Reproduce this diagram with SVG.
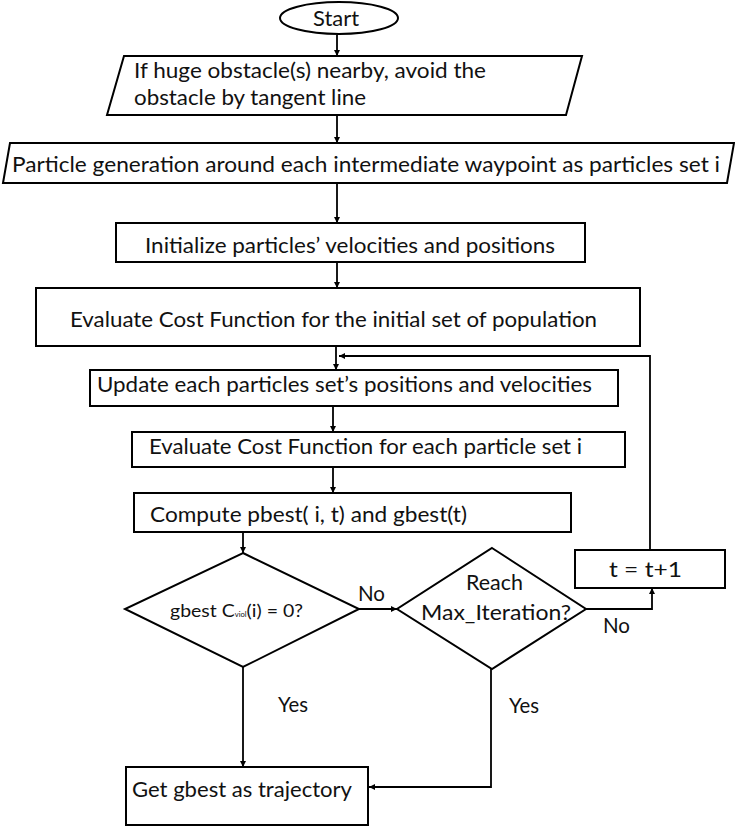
<svg xmlns="http://www.w3.org/2000/svg" width="735" height="830" viewBox="0 0 735 830">
<defs>
<marker id="ah" viewBox="0 0 10 10" refX="10" refY="5" markerWidth="6" markerHeight="6" markerUnits="userSpaceOnUse" orient="auto">
<path d="M0,0 L10,5 L0,10 z" fill="#000"/>
</marker>
<style>
.shape{fill:#fff;stroke:#000;stroke-width:2}
.t{font-family:Lato,"Open Sans",sans-serif;font-size:21px;fill:#111}
.c{fill:none;stroke:#000;stroke-width:1.8;marker-end:url(#ah)}
</style>
</defs>
<rect width="735" height="830" fill="#fff"/>
<g id="connectors">
<line class="c" x1="337" y1="35" x2="337" y2="56"/>
<line class="c" x1="337" y1="115" x2="337" y2="143"/>
<line class="c" x1="337" y1="183" x2="337" y2="223"/>
<line class="c" x1="337" y1="262" x2="337" y2="288"/>
<line class="c" x1="336" y1="346" x2="336" y2="370"/>
<polyline class="c" points="650,550 650,356 339,356"/>
<line class="c" x1="333" y1="406" x2="333" y2="432"/>
<line class="c" x1="333" y1="467" x2="333" y2="493"/>
<line class="c" x1="243" y1="532" x2="243" y2="553"/>
<line class="c" x1="359" y1="609" x2="397" y2="609"/>
<polyline class="c" points="586,609 652,609 652,588"/>
<line class="c" x1="243" y1="667" x2="243" y2="767"/>
<polyline class="c" points="491,669 491,787 369,787"/>
<text class="t" x="358" y="601" textLength="27" lengthAdjust="spacingAndGlyphs">No</text>
<text class="t" x="603" y="633" textLength="27" lengthAdjust="spacingAndGlyphs">No</text>
<text class="t" x="278" y="712" textLength="30" lengthAdjust="spacingAndGlyphs">Yes</text>
<text class="t" x="509" y="713" textLength="30" lengthAdjust="spacingAndGlyphs">Yes</text>
</g>
<g id="start">
<ellipse class="shape" cx="339" cy="18" rx="59" ry="16"/>
<text class="t" x="313" y="26" textLength="46" lengthAdjust="spacingAndGlyphs">Start</text>
</g>
<g id="avoid">
<polygon class="shape" points="124,56 582,56 566,115 107,115"/>
<text class="t" x="134" y="78" textLength="352" lengthAdjust="spacingAndGlyphs">If huge obstacle(s) nearby, avoid the</text>
<text class="t" x="134" y="105" textLength="232" lengthAdjust="spacingAndGlyphs">obstacle by tangent line</text>
</g>
<g id="generate">
<polygon class="shape" points="10,143 734,143 727,183 3,183"/>
<text class="t" x="12" y="172" textLength="708" lengthAdjust="spacingAndGlyphs">Particle generation around each intermediate waypoint as particles set i</text>
</g>
<g id="init">
<rect class="shape" x="116" y="223" width="469" height="39"/>
<text class="t" x="145" y="253" textLength="410" lengthAdjust="spacingAndGlyphs">Initialize particles’ velocities and positions</text>
</g>
<g id="evalInit">
<rect class="shape" x="36" y="288" width="604" height="58"/>
<text class="t" x="70" y="327" textLength="527" lengthAdjust="spacingAndGlyphs">Evaluate Cost Function for the initial set of population</text>
</g>
<g id="update">
<rect class="shape" x="90" y="370" width="528" height="36"/>
<text class="t" x="97" y="392" textLength="495" lengthAdjust="spacingAndGlyphs">Update each particles set’s positions and velocities</text>
</g>
<g id="evalEach">
<rect class="shape" x="132" y="432" width="493" height="35"/>
<text class="t" x="149" y="454" textLength="433" lengthAdjust="spacingAndGlyphs">Evaluate Cost Function for each particle set i</text>
</g>
<g id="compute">
<rect class="shape" x="134" y="493" width="437" height="39"/>
<text class="t" x="150" y="522" textLength="317" lengthAdjust="spacingAndGlyphs">Compute pbest( i, t) and gbest(t)</text>
</g>
<g id="check">
<polygon class="shape" points="243,553 359,609 243,667 125,609"/>
<text class="t" x="170" y="617" style="font-size:18px" textLength="133" lengthAdjust="spacingAndGlyphs">gbest C<tspan style="font-size:7px">viol</tspan>(i) = 0?</text>
</g>
<g id="maxIter">
<polygon class="shape" points="492,548 586,609 492,669 397,609"/>
<text class="t" x="466" y="590" textLength="57" lengthAdjust="spacingAndGlyphs">Reach</text>
<text class="t" x="421" y="620" textLength="150" lengthAdjust="spacingAndGlyphs">Max_Iteration?</text>
</g>
<g id="increment">
<rect class="shape" x="575" y="550" width="150" height="38"/>
<text class="t" x="609" y="577" textLength="73" lengthAdjust="spacingAndGlyphs">t = t+1</text>
</g>
<g id="result">
<rect class="shape" x="126" y="767" width="242" height="58"/>
<text class="t" x="132" y="797" textLength="220" lengthAdjust="spacingAndGlyphs">Get gbest as trajectory</text>
</g>
</svg>
